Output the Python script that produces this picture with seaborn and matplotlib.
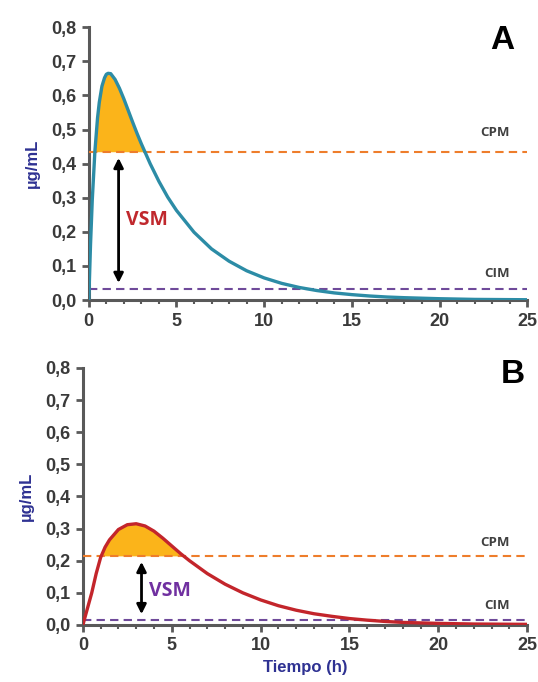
import numpy as np
import pandas as pd
import matplotlib
matplotlib.use("Agg")
import matplotlib.pyplot as plt
from matplotlib.ticker import MultipleLocator, FuncFormatter
import seaborn as sns

# ---------------- DATA ----------------
tiempo_a = [0, 0.1, 0.2, 0.35, 0.5, 0.6, 0.75, 0.9, 1, 1.1, 1.25, 1.5, 1.75, 2,
            2.25, 2.5, 2.75, 3, 3.5, 4, 4.5, 5, 6, 7, 8, 9, 10, 11, 12, 13, 14,
            15, 16, 17, 18, 20, 22, 25]
conc_a = [0, 0.163, 0.294, 0.437, 0.534, 0.580, 0.627, 0.652, 0.662, 0.665,
          0.664, 0.647, 0.621, 0.590, 0.556, 0.522, 0.489, 0.458, 0.400, 0.348,
          0.302, 0.263, 0.199, 0.150, 0.114, 0.086, 0.065, 0.049, 0.037, 0.028,
          0.021, 0.016, 0.012, 0.009, 0.007, 0.004, 0.002, 0.001]

tiempo_b = [0, 0.25, 0.5, 0.75, 1, 1.25, 1.5, 2, 2.5, 3, 3.5, 4, 4.5, 5, 5.5, 6,
            7, 8, 9, 10, 11, 12, 13, 14, 15, 16, 17, 18, 20, 22, 25]
conc_b = [0, 0.050, 0.100, 0.160, 0.210, 0.242, 0.265, 0.297, 0.312, 0.315,
          0.308, 0.292, 0.270, 0.246, 0.222, 0.200, 0.160, 0.127, 0.100, 0.078,
          0.060, 0.046, 0.035, 0.027, 0.020, 0.015, 0.011, 0.008, 0.005, 0.003,
          0.002]

cpm_a, cim_a = 0.435, 0.032
cpm_b, cim_b = 0.215, 0.015

df_a = pd.DataFrame({"tiempo": tiempo_a, "conc": conc_a})
df_b = pd.DataFrame({"tiempo": tiempo_b, "conc": conc_b})

# ---------------- STYLE ----------------
sns.set_theme(style="white")
plt.rcParams["font.family"] = ["Liberation Sans", "DejaVu Sans"]

spine_col = "#595959"
fill_col = "#FBB41A"
cpm_col = "#EE7D2B"
cim_col = "#6F4A9A"
label_col = "#2E3192"

fig = plt.figure(figsize=(5.38, 6.82), dpi=100)
ax_a = fig.add_axes([0.165, 0.560, 0.815, 0.400])
ax_b = fig.add_axes([0.154, 0.0836, 0.826, 0.377])


def style_axis(ax):
    ax.set_xlim(0, 25)
    ax.set_ylim(0, 0.8)
    for s in ["top", "right"]:
        ax.spines[s].set_visible(False)
    for s in ["left", "bottom"]:
        ax.spines[s].set_color(spine_col)
        ax.spines[s].set_linewidth(2.2)
    ax.xaxis.set_major_locator(MultipleLocator(5))
    ax.xaxis.set_minor_locator(MultipleLocator(1))
    ax.yaxis.set_major_locator(MultipleLocator(0.1))
    ax.yaxis.set_major_formatter(FuncFormatter(lambda v, p: f"{v:.1f}".replace(".", ",")))
    ax.tick_params(axis="both", which="major", direction="out", length=5, width=2,
                   color=spine_col, labelsize=13, labelcolor="#3A3A3A", pad=4,
                   bottom=True, left=True)
    ax.tick_params(axis="x", which="minor", direction="out", length=3, width=1.5,
                   color=spine_col, bottom=True)
    for lab in ax.get_xticklabels() + ax.get_yticklabels():
        lab.set_fontweight("bold")
    ax.set_ylabel("µg/mL", color=label_col, fontweight="bold", fontsize=12, labelpad=8)
    ax.set_xlabel("")


def draw_panel(ax, df, cpm, cim, line_col, vsm_col, letter, arrow_x, vsm_xy,
               cpm_y, cim_y, letter_xy):
    x = np.array(df["tiempo"])
    y = np.array(df["conc"])
    ax.fill_between(x, y, cpm, where=y > cpm, interpolate=True, color=fill_col,
                    linewidth=0, zorder=2)
    ax.axhline(cpm, color=cpm_col, linestyle=(0, (4, 2.5)), linewidth=1.5, zorder=3)
    ax.axhline(cim, color=cim_col, linestyle=(0, (4, 2.5)), linewidth=1.5, zorder=3)
    sns.lineplot(data=df, x="tiempo", y="conc", ax=ax, color=line_col,
                 linewidth=2.4, zorder=4, solid_joinstyle="round",
                 solid_capstyle="round")
    ax.annotate("", xy=(arrow_x, cim + 0.01), xytext=(arrow_x, cpm - 0.01),
                arrowprops=dict(arrowstyle="<|-|>", color="black", lw=2,
                                mutation_scale=14), zorder=5)
    ax.text(vsm_xy[0], vsm_xy[1], "VSM", color=vsm_col, fontsize=14,
            fontweight="bold", family=["Open Sans", "DejaVu Sans"],
            ha="left", va="center")
    ax.text(24.0, cpm_y, "CPM", color="#404040", fontsize=9.5, fontweight="bold",
            family=["Open Sans", "DejaVu Sans"], ha="right", va="center")
    ax.text(24.0, cim_y, "CIM", color="#404040", fontsize=9.5, fontweight="bold",
            family=["Open Sans", "DejaVu Sans"], ha="right", va="center")
    ax.text(letter_xy[0], letter_xy[1], letter, fontsize=24, fontweight="bold",
            color="black", ha="center", va="center")
    style_axis(ax)


# ---------------- PANEL A ----------------
draw_panel(ax_a, df_a, cpm_a, cim_a, "#2C8CA6", "#C0282D", "A", 1.7, (2.1, 0.235),
           0.49, 0.078, (23.6, 0.76))

# ---------------- PANEL B ----------------
draw_panel(ax_b, df_b, cpm_b, cim_b, "#C3252B", "#7030A0", "B", 3.3, (3.7, 0.105),
           0.258, 0.062, (24.2, 0.78))
ax_b.set_xlabel("Tiempo (h)", color=label_col, fontweight="bold", fontsize=12,
                labelpad=4)

fig.savefig("out.png", dpi=100, facecolor="white")
